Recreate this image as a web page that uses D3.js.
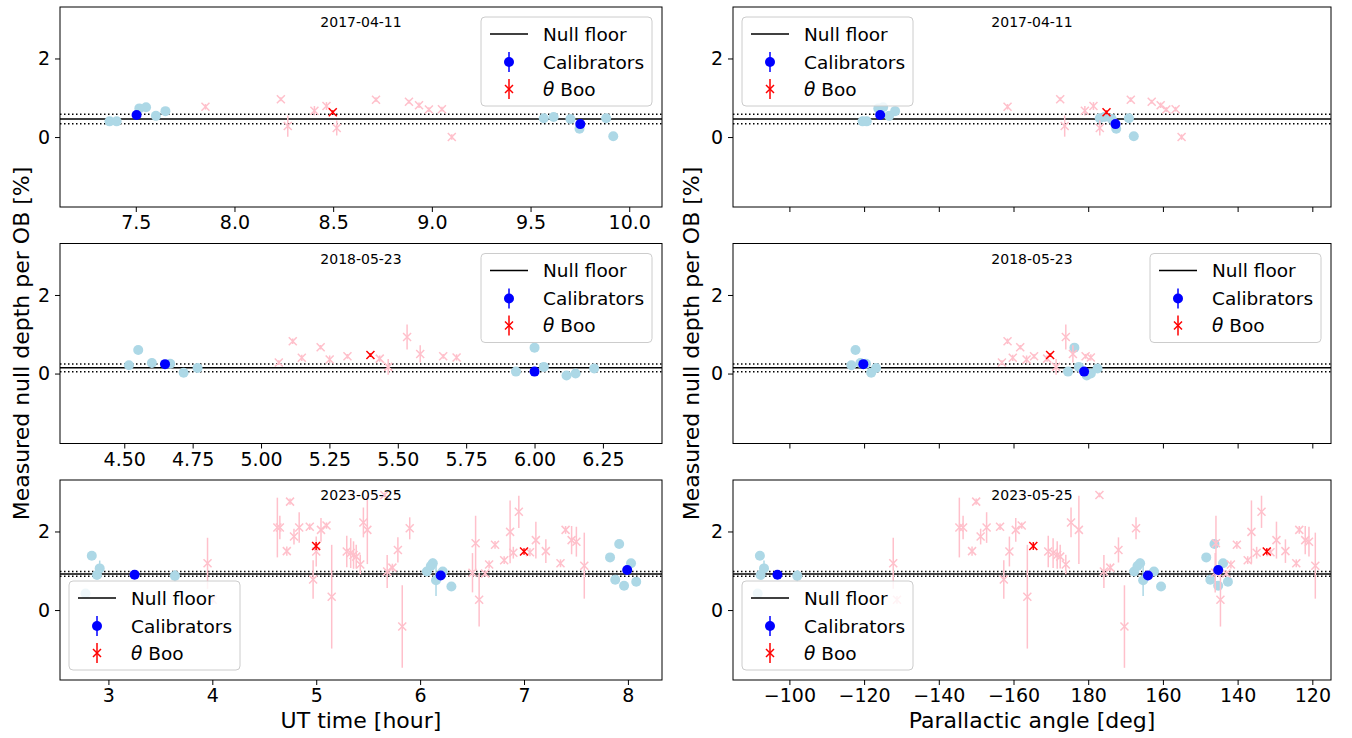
<!DOCTYPE html>
<html>
<head>
<meta charset="utf-8">
<script src="https://cdn.jsdelivr.net/npm/d3@7.9.0/dist/d3.min.js"></script>
<style>
  body { margin: 0; background: #fff; }
  svg { display: block; font-family: "DejaVu Sans", sans-serif; }
</style>
</head>
<body>
<svg id="chart" width="1352" height="738"></svg>
<script>
// nights, null floor and its 1-sigma
const nights = ["2017-04-11", "2018-05-23", "2023-05-25"];
const floorVal = [0.46, 0.145, 0.92];
const floorErr = [0.12, 0.10, 0.06];

// x limits and ticks of the UT panels
const utLimits = [[7.116, 10.166], [4.265, 6.466], [2.534, 8.328]];
const utTicks = [[7.5, 8.0, 8.5, 9.0, 9.5, 10.0],
                 [4.5, 4.75, 5.0, 5.25, 5.5, 5.75, 6.0, 6.25],
                 [3, 4, 5, 6, 7, 8]];
const utFormat = [".1f", ".2f", "d"];
// parallactic angle axis is unwrapped around 180 deg
const paLimits = [84.9, 245];
const paTicks = [-100, -120, -140, -160, 180, 160, 140, 120];
const yLimits = [-1.78, 3.31];
const yTicks = [0, 2];

// ---- 2017-04-11
const cal1Time = [7.367, 7.403, 7.518, 7.552, 7.602, 7.650, 9.567, 9.617, 9.702, 9.748, 9.883, 9.919];
const cal1Angle = [-119.6, -120.7, -123.8, -125.1, -126.7, -128.3, 176.9, 175.6, 173.7, 172.5, 169.1, 167.8];
const cal1Val = [0.40, 0.40, 0.73, 0.76, 0.54, 0.66, 0.48, 0.51, 0.46, 0.21, 0.48, 0.02];
const cal1Err = [0.06, 0.03, 0.04, 0.03, 0.05, 0.03, 0.03, 0.03, 0.03, 0.04, 0.03, 0.03];
const calMean1Time = [7.504, 9.752];
const calMean1Angle = [-124.3, 172.7];
const calMean1Val = [0.56, 0.33];
const calMean1Err = [0.04, 0.04];
const tgt1Time = [7.853, 8.235, 8.270, 8.405, 8.466, 8.518, 8.717, 8.884, 8.935, 8.985, 9.051, 9.101];
const tgt1Angle = [-158.4, -172.5, -173.7, -179.1, 178.6, 176.9, 168.6, 163.0, 160.6, 159.1, 156.6, 155.0];
const tgt1Val = [0.77, 0.96, 0.28, 0.67, 0.79, 0.23, 0.95, 0.90, 0.81, 0.70, 0.71, 0.00];
const tgt1Err = [0.07, 0.05, 0.27, 0.12, 0.10, 0.19, 0.06, 0.05, 0.07, 0.06, 0.06, 0.07];
const tgtMean1Time = [8.498];
const tgtMean1Angle = [175.1];
const tgtMean1Val = [0.63];
const tgtMean1Err = [0.05];

// ---- 2018-05-23
const cal2Time = [4.517, 4.551, 4.601, 4.668, 4.717, 4.768, 5.932, 6.000, 6.034, 6.117, 6.150, 6.218];
const cal2Angle = [-116.6, -117.7, -119.0, -120.5, -121.9, -123.2, -174.6, -176.3, -177.5, -179.6, 179.3, 177.5];
const cal2Val = [0.21, 0.60, 0.27, 0.25, 0.02, 0.14, 0.05, 0.66, 0.17, -0.05, 0.00, 0.13];
const cal2Err = [0.03, 0.03, 0.12, 0.03, 0.08, 0.03, 0.03, 0.03, 0.03, 0.03, 0.03, 0.03];
const calMean2Time = [4.649, 6.000];
const calMean2Angle = [-119.8, -178.9];
const calMean2Val = [0.24, 0.05];
const calMean2Err = [0.04, 0.04];
const tgt2Time = [5.065, 5.116, 5.149, 5.218, 5.251, 5.316, 5.434, 5.465, 5.534, 5.582, 5.666, 5.715];
const tgt2Angle = [-156.9, -158.4, -159.8, -161.8, -163.5, -165.5, -169.0, -171.4, -174.0, -175.9, -179.3, 179.3];
const tgt2Val = [0.28, 0.82, 0.40, 0.67, 0.36, 0.44, 0.38, 0.17, 0.93, 0.50, 0.44, 0.41];
const tgt2Err = [0.06, 0.07, 0.08, 0.06, 0.10, 0.06, 0.08, 0.20, 0.32, 0.22, 0.06, 0.08];
const tgtMean2Time = [5.40];
const tgtMean2Angle = [-169.8];
const tgtMean2Val = [0.47];
const tgtMean2Err = [0.05];

// ---- 2023-05-25
const cal3Time = [2.78, 2.84, 2.89, 2.916, 3.64, 6.065, 6.103, 6.122, 6.153, 6.218, 6.301, 7.828, 7.878, 7.916, 7.963, 8.03, 8.08];
const cal3Angle = [-91.5, -92.1, -92.3, -93.2, -102.1, 167.7, 166.8, 166.1, 165.3, 162.4, 160.5, 148.4, 147.3, 146.2, 145.2, 143.9, 142.6];
const cal3Val = [0.42, 1.38, 0.89, 1.06, 0.87, 0.98, 1.12, 1.19, 0.76, 0.98, 0.60, 1.34, 0.77, 1.68, 0.62, 1.19, 0.72];
const cal3Err = [0.05, 0.05, 0.06, 0.20, 0.15, 0.05, 0.05, 0.12, 0.40, 0.05, 0.05, 0.08, 0.05, 0.08, 0.05, 0.06, 0.04];
const calMean3Time = [3.252, 6.198, 7.993];
const calMean3Angle = [-96.8, 164.0, 145.2];
const calMean3Val = [0.90, 0.88, 1.02];
const calMean3Err = [0.07, 0.05, 0.09];
const tgt3Time = [3.954, 4.003, 4.626, 4.650, 4.717, 4.748, 4.786, 4.836, 4.938, 4.970,
  5.000, 5.046, 5.099, 5.149, 5.294, 5.332, 5.359, 5.385, 5.424, 5.454,
  5.492, 5.656, 5.683, 5.733, 5.786, 5.828, 5.900, 6.504, 6.534, 6.568,
  6.626, 6.664, 6.721, 6.809, 6.866, 6.897, 6.950, 7.057, 7.114, 7.210,
  7.351, 7.400, 7.458, 7.504, 7.580];
const tgt3Angle = [-127.8, -128.8, -145.5, -146.5, -148.9, -150.0, -151.2, -152.8, -156.4, -157.4,
  -158.9, -160.6, -162.2, -163.7, -169.3, -170.6, -171.7, -172.5, -174.0, -175.4,
  -177.5, 177.0, 175.8, 174.1, 171.9, 170.3, 167.2, 146.0, 145.8, 144.6,
  143.0, 141.8, 140.2, 137.3, 136.3, 134.9, 133.6, 131.2, 129.6, 127.2,
  124.3, 123.5, 121.9, 120.9, 119.2];
const tgt3Val = [1.19, 0.26, 2.10, 2.10, 1.50, 2.76, 1.87, 2.10, 2.12, 0.78,
  1.49, 2.04, 2.15, 0.34, 1.49, 1.45, 1.40, 1.36, 1.16, 2.23,
  2.04, 2.93, 0.98, 1.08, 1.53, -0.42, 2.08, 0.95, 1.70, 0.26,
  0.93, 1.16, 1.66, 1.27, 1.99, 1.46, 2.50, 1.47, 1.78, 1.50,
  1.19, 2.04, 1.78, 1.74, 1.13];
const tgt3Err = [0.65, 0.10, 0.76, 0.30, 0.12, 0.08, 0.20, 0.39, 0.08, 0.49,
  0.38, 0.30, 0.08, 1.32, 0.40, 0.38, 0.35, 0.30, 0.25, 0.38,
  0.87, 0.06, 0.42, 0.10, 0.32, 1.05, 0.28, 0.50, 0.70, 0.68,
  0.08, 0.10, 0.10, 0.10, 0.80, 0.15, 0.41, 0.10, 0.47, 0.30,
  0.10, 0.10, 0.36, 0.38, 0.84];
const tgtMean3Time = [4.999, 7.000];
const tgtMean3Angle = [-165.3, 132.2];
const tgtMean3Val = [1.63, 1.49];
const tgtMean3Err = [0.10, 0.08];

function pts(t, a, v, e) {
  return t.map((d, i) => ({ time: d, angle: a[i], val: v[i], err: e[i] }));
}
const data = [
  { cal: pts(cal1Time, cal1Angle, cal1Val, cal1Err), calMean: pts(calMean1Time, calMean1Angle, calMean1Val, calMean1Err),
    tgt: pts(tgt1Time, tgt1Angle, tgt1Val, tgt1Err), tgtMean: pts(tgtMean1Time, tgtMean1Angle, tgtMean1Val, tgtMean1Err) },
  { cal: pts(cal2Time, cal2Angle, cal2Val, cal2Err), calMean: pts(calMean2Time, calMean2Angle, calMean2Val, calMean2Err),
    tgt: pts(tgt2Time, tgt2Angle, tgt2Val, tgt2Err), tgtMean: pts(tgtMean2Time, tgtMean2Angle, tgtMean2Val, tgtMean2Err) },
  { cal: pts(cal3Time, cal3Angle, cal3Val, cal3Err), calMean: pts(calMean3Time, calMean3Angle, calMean3Val, calMean3Err),
    tgt: pts(tgt3Time, tgt3Angle, tgt3Val, tgt3Err), tgtMean: pts(tgtMean3Time, tgtMean3Angle, tgtMean3Val, tgtMean3Err) }
];

// unwrap: -100 .. -180 | 180 .. 120  ->  100 .. 240
const unwrap = a => a < 0 ? -a : 360 - a;

const svg = d3.select("#chart");
const colX = [[60, 662], [733, 1331]];
const rowY = [[7, 207], [243.5, 443.5], [480, 680]];
// legend corner per panel [row][col]
const legendPos = [["ur", "ul"], ["ur", "ur"], ["ll", "ll"]];

const LIGHTBLUE = "#add8e6", PINK = "#ffc0cb";
const TICK_FS = 19, LEG_FS = 18.5;

function drawPanel(row, col) {
  const [x0, x1] = colX[col], [y0, y1] = rowY[row];
  const x = col === 0
    ? d3.scaleLinear().domain(utLimits[row]).range([x0, x1])
    : d3.scaleLinear().domain(paLimits).range([x0, x1]);
  const y = d3.scaleLinear().domain(yLimits).range([y1, y0]);
  const px = d => col === 0 ? x(d.time) : x(unwrap(d.angle));
  const g = svg.append("g");
  const clipId = `clip-${row}-${col}`;
  svg.append("clipPath").attr("id", clipId).append("rect")
    .attr("x", x0).attr("y", y0).attr("width", x1 - x0).attr("height", y1 - y0);
  const plot = g.append("g").attr("clip-path", `url(#${clipId})`);

  // null floor
  plot.append("line").attr("x1", x0).attr("x2", x1)
    .attr("y1", y(floorVal[row])).attr("y2", y(floorVal[row]))
    .attr("stroke", "#000").attr("stroke-width", 1.5);
  [-1, 1].forEach(s => {
    const yy = y(floorVal[row] + s * floorErr[row]);
    plot.append("line").attr("x1", x0).attr("x2", x1).attr("y1", yy).attr("y2", yy)
      .attr("stroke", "#000").attr("stroke-width", 1.5).attr("stroke-dasharray", "1.5,2.5");
  });

  function errbars(arr, color) {
    plot.selectAll(null).data(arr).join("line")
      .attr("x1", px).attr("x2", px)
      .attr("y1", d => y(d.val - d.err)).attr("y2", d => y(d.val + d.err))
      .attr("stroke", color).attr("stroke-width", 1.5);
  }
  function dots(arr, color) {
    errbars(arr, color);
    plot.selectAll(null).data(arr).join("circle")
      .attr("cx", px).attr("cy", d => y(d.val)).attr("r", 5).attr("fill", color);
  }
  function crosses(arr, color) {
    errbars(arr, color);
    const s = 4;
    plot.selectAll(null).data(arr).join("path")
      .attr("d", d => { const cx = px(d), cy = y(d.val);
        return `M${cx - s},${cy - s}L${cx + s},${cy + s}M${cx - s},${cy + s}L${cx + s},${cy - s}`; })
      .attr("stroke", color).attr("stroke-width", 1.5).attr("fill", "none");
  }
  const D = data[row];
  dots(D.cal, LIGHTBLUE);
  crosses(D.tgt, PINK);
  dots(D.calMean, "#0000ff");
  crosses(D.tgtMean, "#ff0000");

  // frame
  g.append("rect").attr("x", x0).attr("y", y0).attr("width", x1 - x0).attr("height", y1 - y0)
    .attr("fill", "none").attr("stroke", "#000").attr("stroke-width", 1);

  // x axis
  const showX = col === 0 || row === 2;
  const ticks = col === 0 ? utTicks[row] : paTicks.map(unwrap);
  const fmt = col === 0 ? d3.format(utFormat[row])
    : (u => { const a = u <= 180 ? (u === 180 ? 180 : -u) : 360 - u; return String(a).replace("-", "\u2212"); });
  const xa = g.append("g").attr("transform", `translate(0,${y1})`)
    .call(d3.axisBottom(x).tickValues(ticks).tickSize(5).tickPadding(4).tickFormat(showX ? fmt : ""));
  xa.select(".domain").remove();
  xa.selectAll("text").attr("font-size", TICK_FS).attr("font-family", "DejaVu Sans").attr("fill", "#000");

  const ya = g.append("g").attr("transform", `translate(${x0},0)`)
    .call(d3.axisLeft(y).tickValues(yTicks).tickSize(5).tickPadding(5).tickFormat(d3.format("d")));
  ya.select(".domain").remove();
  ya.selectAll("text").attr("font-size", TICK_FS).attr("font-family", "DejaVu Sans").attr("fill", "#000");

  // date title
  g.append("text").attr("x", (x0 + x1) / 2).attr("y", y0 + 20).attr("text-anchor", "middle")
    .attr("font-size", 14).text(nights[row]);

  // legend
  const lw = 171, lh = 89;
  const pos = legendPos[row][col];
  const lx = pos === "ll" || pos === "ul" ? x0 + 9 : x1 - 10 - lw;
  const ly = pos === "ll" ? y1 - 10 - lh : y0 + 10;
  const lg = g.append("g").attr("transform", `translate(${lx},${ly})`);
  lg.append("rect").attr("width", lw).attr("height", lh).attr("rx", 4)
    .attr("fill", "#fff").attr("fill-opacity", 0.8).attr("stroke", "#cccccc");
  const hx = 28, rowsY = [17, 45, 72];
  lg.append("line").attr("x1", hx - 19).attr("x2", hx + 19).attr("y1", rowsY[0]).attr("y2", rowsY[0])
    .attr("stroke", "#000").attr("stroke-width", 1.5);
  lg.append("line").attr("x1", hx).attr("x2", hx).attr("y1", rowsY[1] - 10).attr("y2", rowsY[1] + 10)
    .attr("stroke", "#0000ff").attr("stroke-width", 1.5);
  lg.append("circle").attr("cx", hx).attr("cy", rowsY[1]).attr("r", 5).attr("fill", "#0000ff");
  lg.append("line").attr("x1", hx).attr("x2", hx).attr("y1", rowsY[2] - 10).attr("y2", rowsY[2] + 10)
    .attr("stroke", "#ff0000").attr("stroke-width", 1.5);
  lg.append("path").attr("d", `M${hx - 4},${rowsY[2] - 4}L${hx + 4},${rowsY[2] + 4}M${hx - 4},${rowsY[2] + 4}L${hx + 4},${rowsY[2] - 4}`)
    .attr("stroke", "#ff0000").attr("stroke-width", 1.5);
  const labels = ["Null floor", "Calibrators", null];
  labels.forEach((t, i) => {
    const tx = lg.append("text").attr("x", 62).attr("y", rowsY[i]).attr("dy", "0.36em").attr("font-size", LEG_FS);
    if (t) tx.text(t);
    else { tx.append("tspan").attr("font-style", "italic").text("\u03b8"); tx.append("tspan").text(" Boo"); }
  });
}

for (let r = 0; r < 3; r++) for (let c = 0; c < 2; c++) drawPanel(r, c);

// axis titles
svg.append("text").attr("x", 361).attr("y", 728).attr("text-anchor", "middle").attr("font-size", 22).text("UT time [hour]");
svg.append("text").attr("x", 1032).attr("y", 728).attr("text-anchor", "middle").attr("font-size", 22).text("Parallactic angle [deg]");
[21, 691].forEach(xx => {
  svg.append("text").attr("transform", `translate(${xx},343.5) rotate(-90)`).attr("text-anchor", "middle")
    .attr("dy", "0.36em").attr("font-size", 22).text("Measured null depth per OB [%]");
});
</script>
</body>
</html>
